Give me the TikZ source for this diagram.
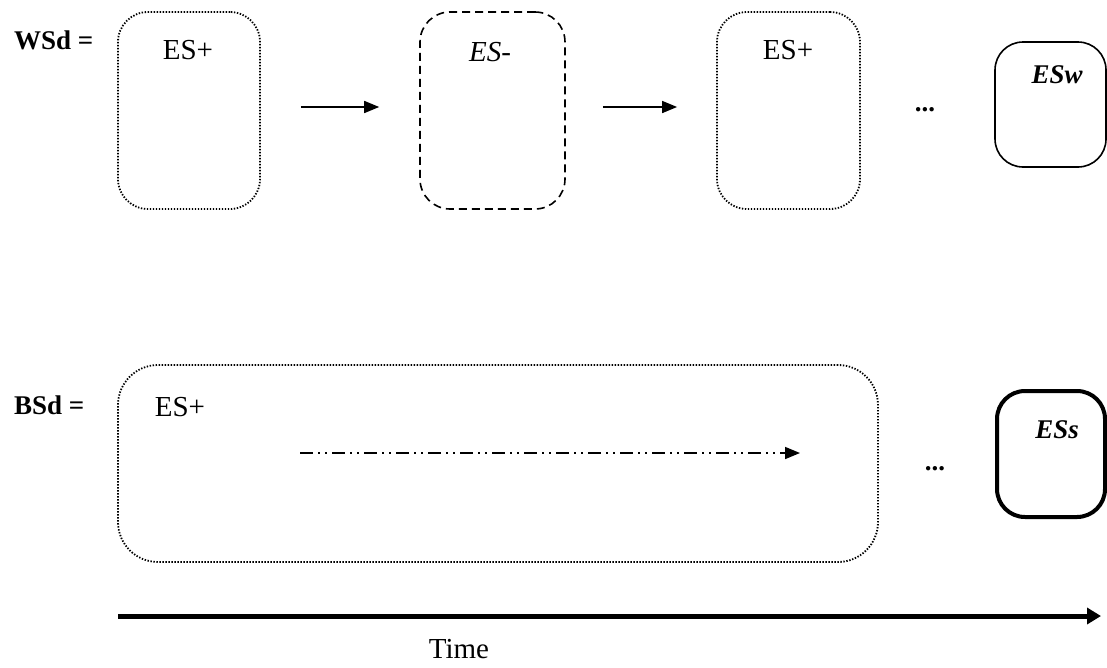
\documentclass[tikz,border=0pt]{standalone}
\usepackage{fontspec}
\setmainfont{Liberation Serif}
\usetikzlibrary{arrows.meta}
\tikzset{
  dotbox/.style={draw, line width=1.8pt, dash pattern=on 1.4pt off 1.6pt, rounded corners=30pt, inner sep=0pt},
  dashbox/.style={draw, line width=1.6pt, dash pattern=on 8pt off 5pt, rounded corners=30pt, inner sep=0pt},
  solidbox/.style={draw, line width=1.6pt, rounded corners=28pt, inner sep=0pt},
  thickbox/.style={draw, line width=4pt, rounded corners=28pt, inner sep=0pt},
  lbl/.style={font=\fontsize{29pt}{33pt}\selectfont, inner sep=0pt},
  blbl/.style={font=\fontsize{27pt}{31pt}\selectfont\bfseries, inner sep=0pt},
  arr/.style={line width=1.6pt, -{Triangle[length=15pt,width=12pt]}},
  ddarr/.style={line width=1.6pt, dash pattern=on 13pt off 5pt on 2pt off 5pt on 2pt off 5pt, -{Triangle[length=15pt,width=12pt]}},
  timearr/.style={line width=5pt, -{Triangle[length=14pt,width=16pt]}},
}
\begin{document}
\begin{tikzpicture}[x=1pt,y=-1pt]
\useasboundingbox (0,0) rectangle (1107,667);
% top row
\node[blbl, anchor=west] (wsd) at (14,40) {WSd =};
\node[dotbox, minimum width=142pt, minimum height=197pt] (b1) at (189,110.5) {};
\node[lbl] (t1) at (188,50) {ES+};
\node[dashbox, minimum width=145pt, minimum height=197pt] (b2) at (492.5,110.5) {};
\node[lbl] (t2) at (490,52) {\itshape ES\textup{-}};
\node[dotbox, minimum width=143pt, minimum height=197pt] (b3) at (788.5,110.5) {};
\node[lbl] (t3) at (788,50) {ES+};
\node[blbl] (d1) at (925,110) {...};
\node[solidbox, minimum width=111pt, minimum height=125pt] (b4) at (1050.5,104.5) {};
\node[blbl] (t4) at (1057,75) {\itshape ESw};
\draw[arr, shorten <=40pt, shorten >=40pt] (b1.east |- 0,107) -- (b2.west |- 0,107);
\draw[arr, shorten <=37pt, shorten >=39pt] (b2.east |- 0,107) -- (b3.west |- 0,107);
% bottom row
\node[blbl, anchor=west] (bsd) at (14,405) {BSd =};
\node[dotbox, rounded corners=40pt, minimum width=760pt, minimum height=197pt] (b5) at (498,463.5) {};
\node[lbl] (t5) at (180,407) {ES+};
\coordinate (ds) at (300,453);
\coordinate (de) at (800,453);
\draw[ddarr] (ds) -- (de);
\node[blbl] (d2) at (935,469) {...};
\node[thickbox, minimum width=108pt, minimum height=126pt] (b6) at (1051,454) {};
\node[blbl] (t6) at (1057,430) {\itshape ESs};
% time axis
\coordinate (ts) at (118,616);
\coordinate (te) at (1101,616);
\draw[timearr] (ts) -- (te);
\node[lbl, anchor=base] (time) at (459,658) {Time};
\end{tikzpicture}
\end{document}
